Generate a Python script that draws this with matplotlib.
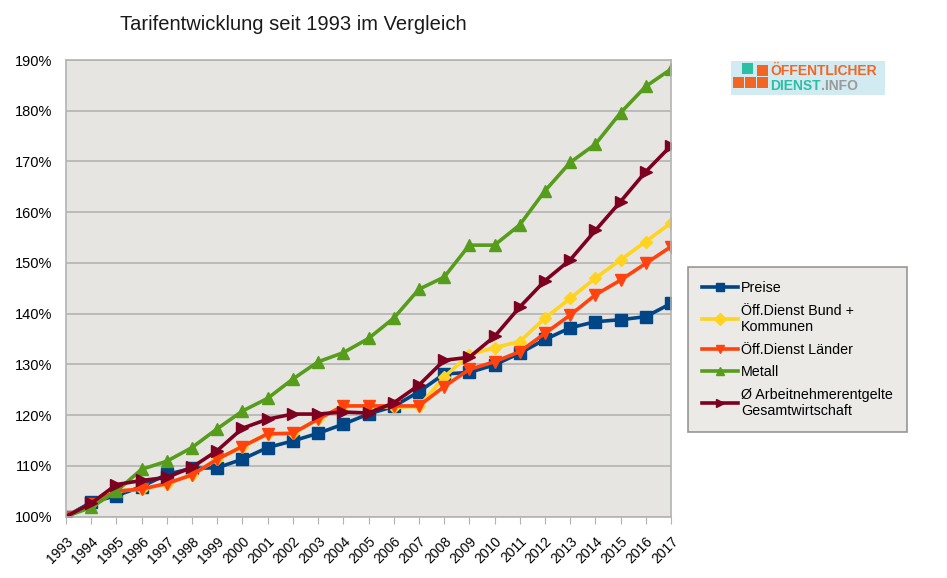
import numpy as np
import matplotlib.pyplot as plt
from matplotlib.patches import Rectangle

plt.rcParams['font.family'] = ['Liberation Sans', 'DejaVu Sans']

years = [str(y) for y in range(1993, 2018)]

preise = [100, 102.8, 104.1, 105.9, 108.3, 109.5, 109.6, 111.3, 113.6, 114.9, 116.4, 118.2,
          120.2, 121.7, 124.6, 128.1, 128.4, 129.9, 132.2, 134.9, 137.2, 138.4, 138.8, 139.4, 142.0]
bund_kommunen = [100, 102.5, 105.0, 105.4, 106.5, 108.2, 111.3, 113.8, 116.3, 116.4, 119.2, 121.8,
                 121.8, 121.5, 121.7, 127.5, 131.9, 133.3, 134.5, 139.1, 143.0, 147.0, 150.6, 154.2, 157.9]
laender = [100, 102.5, 105.0, 105.4, 106.5, 108.2, 111.3, 113.8, 116.3, 116.4, 119.2, 121.8,
           121.8, 121.8, 121.8, 125.6, 129.0, 130.5, 132.5, 136.1, 139.7, 143.7, 146.6, 149.9, 153.2]
metall = [100, 101.8, 105.0, 109.3, 110.9, 113.6, 117.3, 120.8, 123.3, 127.1, 130.5, 132.3,
          135.1, 139.1, 144.8, 147.2, 153.5, 153.5, 157.5, 164.2, 169.8, 173.4, 179.6, 184.8, 188.2]
arbeitnehmer = [100, 102.6, 106.3, 107.1, 107.7, 109.7, 113.0, 117.4, 119.2, 120.2, 120.2, 120.6,
                120.4, 122.4, 125.9, 130.8, 131.4, 135.5, 141.3, 146.5, 150.6, 156.4, 162.1, 168.0, 173.1]

series = [
    ("Preise", preise, "#004586", "s", 8.5),
    ("Öff.Dienst Bund +\nKommunen", bund_kommunen, "#ffd320", "D", 6),
    ("Öff.Dienst Länder", laender, "#ff420e", "v", 9),
    ("Metall", metall, "#579d1c", "^", 9),
    ("Ø Arbeitnehmerentgelte\nGesamtwirtschaft", arbeitnehmer, "#7e0021", ">", 9),
]

fig = plt.figure(figsize=(9.47, 5.78), dpi=100)
W, H = 947, 578
ax = fig.add_axes([66 / W, (H - 516.5) / H, (671 - 66) / W, (516.5 - 60) / H])
ax.set_facecolor("#e6e5e2")

x = np.arange(len(years))
for label, vals, color, marker, ms in series:
    ax.plot(x, np.array(vals) / 100, color=color, marker=marker, markersize=ms,
            linewidth=2.6, label=label, solid_joinstyle='round')

ax.set_xlim(0, len(years) - 1)
ax.set_ylim(1.0, 1.9)
ax.set_yticks(np.arange(1.0, 1.91, 0.1))
ax.set_yticklabels([f"{int(round(v * 100))}%" for v in np.arange(1.0, 1.91, 0.1)], fontsize=10.5)
ax.set_xticks(x)
ax.set_xticklabels(years, rotation=45, ha='right', rotation_mode='anchor', fontsize=10)
ax.yaxis.grid(True, color="#b3b3b3", linewidth=1.2)
ax.set_axisbelow(True)
for s in ax.spines.values():
    s.set_color("#b3b3b3")
    s.set_linewidth(1.2)
ax.tick_params(axis='x', length=5, color="#b3b3b3", pad=8)
ax.tick_params(axis='y', length=0, pad=10)

fig.text(293 / W, 1 - 25 / H, "Tarifentwicklung seit 1993 im Vergleich", ha='center', va='center',
         fontsize=14.5, color="#1a1a1a")

leg = fig.legend(loc='upper left', bbox_to_anchor=(688 / W, 1 - 267 / H), fontsize=10.3,
                 frameon=True, fancybox=False, handlelength=2.5, handletextpad=0.2,
                 borderpad=1.0, labelspacing=0.6, borderaxespad=0)
leg.get_frame().set_facecolor("#e6e5e2")
leg.get_frame().set_edgecolor("#7f7f7f")
leg.get_frame().set_linewidth(1.2)
for h in leg.legend_handles:
    h.set_markersize(6)

# logo
fig.patches.append(Rectangle((731 / W, 1 - 95 / H), 154 / W, 34 / H, transform=fig.transFigure,
                             facecolor="#d2ebf2", edgecolor='none'))
for bx, by, bw, bh, c in [(733, 77, 11, 11, "#f26522"), (745, 77, 11, 11, "#f26522"),
                          (757, 77, 11, 11, "#f26522"), (757, 65, 11, 11, "#f26522"),
                          (742, 63, 11, 11, "#2bbfa4")]:
    fig.patches.append(Rectangle((bx / W, 1 - (by + bh) / H), bw / W, bh / H,
                                 transform=fig.transFigure, facecolor=c, edgecolor='none'))
fig.text(770 / W, 1 - 71 / H, "ÖFFENTLICHER", fontsize=10, fontweight='bold', color="#f26522",
         va='center', ha='left')
t = fig.text(770 / W, 1 - 86 / H, "DIENST", fontsize=10, fontweight='bold', color="#2bbfa4",
             va='center', ha='left')
r = fig.canvas.get_renderer()
bb = t.get_window_extent(r)
fig.text(bb.x1 / W, 1 - 86 / H, ".INFO", fontsize=10, fontweight='bold', color="#9a9a9a",
         va='center', ha='left')

fig.savefig("out.png", dpi=100)
